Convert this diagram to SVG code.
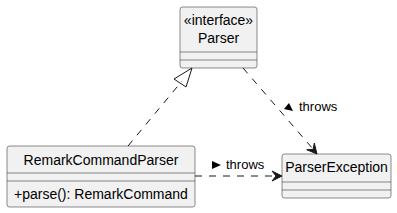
<svg xmlns="http://www.w3.org/2000/svg" width="397" height="213" viewBox="0 0 397 213">
<style>
.box{fill:#F1F1F1;stroke:#181818;stroke-width:0.5}
.sep{stroke:#181818;stroke-width:0.5}
.t{font-family:"Liberation Sans",Arial,sans-serif;font-size:14px;fill:#000}
.l{font-family:"Liberation Sans",Arial,sans-serif;font-size:13px;fill:#000}
.dash{fill:none;stroke:#181818;stroke-width:1;stroke-dasharray:7,7}
.head{fill:#181818;stroke:#181818;stroke-width:1}
</style>
<rect width="397" height="213" fill="#FFFFFF"/>
<g id="Parser">
<rect class="box" x="180" y="7" width="77" height="61" rx="2.5"/>
<text class="t" x="218.5" y="25" text-anchor="middle">«interface»</text>
<text class="t" x="218.5" y="43" text-anchor="middle">Parser</text>
<line class="sep" x1="180" y1="52" x2="257" y2="52"/>
<line class="sep" x1="180" y1="60" x2="257" y2="60"/>
</g>
<g id="RemarkCommandParser">
<rect class="box" x="7" y="146" width="188" height="61" rx="2.5"/>
<text class="t" x="101" y="165" text-anchor="middle">RemarkCommandParser</text>
<line class="sep" x1="7" y1="173" x2="195" y2="173"/>
<line class="sep" x1="7" y1="181" x2="195" y2="181"/>
<text class="t" x="14" y="199">+parse(): RemarkCommand</text>
</g>
<g id="ParserException">
<rect class="box" x="282" y="154" width="109" height="44" rx="2.5"/>
<text class="t" x="336.5" y="172" text-anchor="middle">ParserException</text>
<line class="sep" x1="282" y1="182" x2="391" y2="182"/>
<line class="sep" x1="282" y1="190" x2="391" y2="190"/>
</g>
<g id="connectors">
<line class="dash" x1="128" y1="146" x2="182" y2="81"/>
<polygon points="192,68 174,79 186,87" fill="none" stroke="#181818" stroke-width="1"/>
<line class="dash" x1="243" y1="68" x2="313" y2="149"/>
<polygon class="head" points="317,154 306.7,149.7 313.1,149.5 314.3,143.1"/>
<polygon points="289,103 284,109 293,111" fill="#000"/>
<text class="l" x="299" y="111">throws</text>
<line class="dash" x1="195" y1="176" x2="277" y2="176"/>
<polygon class="head" points="282,176 272,171 276,176 272,181"/>
<polygon points="212,161 221,165 212,169" fill="#000"/>
<text class="l" x="226" y="169">throws</text>
</g>
</svg>
